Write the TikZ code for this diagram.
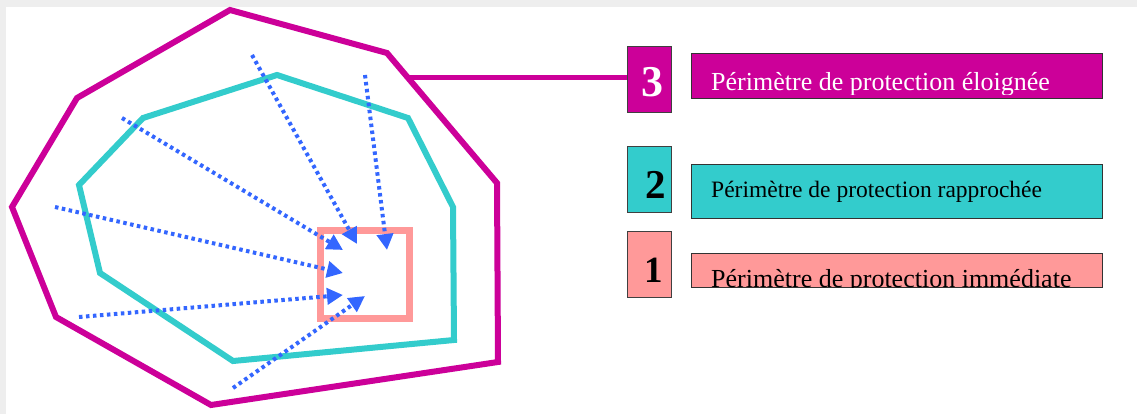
\documentclass[tikz,border=0pt]{standalone}
\usepackage{fontspec}
\setmainfont{Liberation Serif}
\usetikzlibrary{arrows.meta}
\definecolor{mag}{HTML}{CC0099}
\definecolor{teal2}{HTML}{33CCCC}
\definecolor{pinkb}{HTML}{FF9999}
\definecolor{arrblue}{HTML}{3366FF}
\definecolor{frame}{HTML}{EEEEEE}
\tikzset{
  flow/.style={arrblue, line width=4pt, dash pattern=on 3.5pt off 3.5pt,
    -{Triangle[length=16pt,width=16pt]}},
  numbox/.style={draw=black!75, line width=1pt, minimum width=44pt, minimum height=66pt, inner sep=0pt},
  labbox/.style={draw=black!80, line width=1pt, minimum width=411pt, inner sep=0pt},
  labtext/.style={anchor=base west, inner sep=0pt},
}
\begin{document}
\begin{tikzpicture}[x=1pt,y=-1pt]
\useasboundingbox (0,0) rectangle (1137,414);
\fill[frame] (0,0) rectangle (1137,414);
\fill[white] (6,7) rectangle (1137,414);
% outer perimeter (3)
\draw[mag, line width=6pt, line join=miter]
  (230,10) -- (387,53) -- (497,183) -- (498,362) -- (211,405) -- (56,317) -- (12,207) -- (77,98) -- cycle;
% middle perimeter (2)
\draw[teal2, line width=6pt]
  (277,75) -- (408,118) -- (453,207) -- (454,340) -- (233,361) -- (100,273) -- (79,185) -- (143,118) -- cycle;
% immediate perimeter (1)
\draw[pinkb, line width=7pt] (320,230) rectangle (409,318);
% arrows
\coordinate (s1) at (252,55);  \coordinate (e1) at (357,244);
\coordinate (s2) at (365,75);  \coordinate (e2) at (387,250);
\coordinate (s3) at (122,118); \coordinate (e3) at (343,250);
\coordinate (s4) at (55,207);  \coordinate (e4) at (343,273);
\coordinate (s5) at (79,317);  \coordinate (e5) at (343,295);
\coordinate (s6) at (233,388); \coordinate (e6) at (365,296);
\foreach \i in {1,...,6} \draw[flow] (s\i) -- (e\i);
% legend boxes
\node[numbox, fill=mag] (n3) at (649,79.5) {};
\node[numbox, fill=teal2] (n2) at (649,179.5) {};
\node[numbox, fill=pinkb] (n1) at (649,264.5) {};
\node[labtext, font=\fontsize{44}{44}\selectfont\bfseries, text=white] (d3) at (641,97) {3};
\node[labtext, font=\fontsize{41}{41}\selectfont\bfseries] (d2) at (645,198) {2};
\node[labtext, font=\fontsize{37}{37}\selectfont\bfseries] (d1) at (644,282) {1};
\coordinate (c3) at (408,78);
\draw[mag, line width=5pt] (c3) -- (n3.west |- c3);
% label boxes
\node[labbox, fill=mag, minimum height=45pt] (l3) at (896.5,76.5) {};
\node[labbox, fill=teal2, minimum height=53pt] (l2) at (896.5,191.5) {};
\node[labbox, fill=pinkb, minimum height=34pt] (l1) at (896.5,270) {};
\begin{scope}
\clip (691,54) rectangle (1102,95);
\node[labtext, text=white, font=\fontsize{26}{26}\selectfont] (t3) at (711,91) {Périmètre de protection éloignée};
\end{scope}
\node[labtext, font=\fontsize{23.5}{23.5}\selectfont] (t2) at (711,197) {Périmètre de protection rapprochée};
\begin{scope}
\clip (691,253) rectangle (1102,287);
\node[labtext, font=\fontsize{26}{26}\selectfont] (t1) at (711,287) {Périmètre de protection immédiate};
\end{scope}
\end{tikzpicture}
\end{document}
